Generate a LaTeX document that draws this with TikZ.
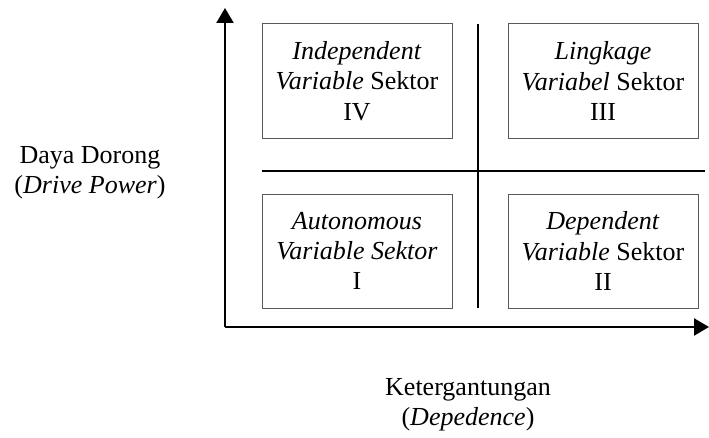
\documentclass[tikz,border=0pt]{standalone}
\usepackage{fontspec}
\setmainfont{Liberation Serif}
\usetikzlibrary{arrows.meta}
\begin{document}
\begin{tikzpicture}[
  sektor/.style={draw=black!65,line width=0.7pt,minimum width=4.75cm,minimum height=2.85cm,
    align=center,font=\fontsize{18.5}{21.5}\selectfont,inner sep=0pt},
  label/.style={align=center,font=\fontsize{18.5}{21.5}\selectfont},
  axis/.style={line width=1.6pt,-{Triangle[length=0.375cm,width=0.425cm]}},
  divider/.style={line width=1.4pt}]
\useasboundingbox (-5.625,-2.775) rectangle (12.1,8.175);
% axes
\coordinate (o) at (0,0);
\coordinate (ytop) at (0,7.975);
\coordinate (xend) at (12.1,0);
\draw[axis] (o) -- (ytop);
\draw[axis] (o) -- (xend);
% quadrant lines
\coordinate (hl) at (0.925,3.9);
\coordinate (hr) at (12.0,3.9);
\coordinate (vt) at (6.325,7.575);
\coordinate (vb) at (6.325,0.475);
\draw[divider] (hl) -- (hr);
\draw[divider] (vt) -- (vb);
% sectors
\node[sektor] (s4) at (3.3,6.15) {\textit{Independent}\\\textit{Variable} Sektor\\IV};
\node[sektor] (s3) at (9.45,6.15) {\textit{Lingkage}\\\textit{Variabel} Sektor\\III};
\node[sektor] (s1) at (3.3,1.9) {\textit{Autonomous}\\\textit{Variable Sektor}\\I};
\node[sektor] (s2) at (9.45,1.9) {\textit{Dependent}\\\textit{Variable} Sektor\\II};
% axis labels
\node[label] (drive) at (-3.375,3.85) {Daya Dorong\\(\textit{Drive Power})};
\node[label] (dep) at (6.075,-1.95) {Ketergantungan\\(\textit{Depedence})};
\end{tikzpicture}
\end{document}
